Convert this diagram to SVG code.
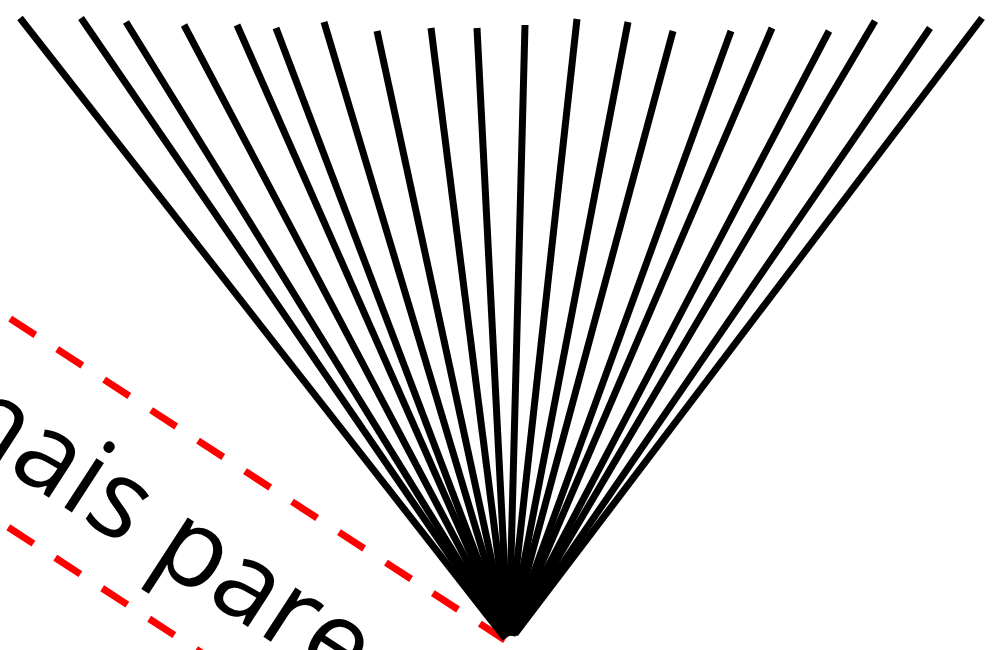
<svg xmlns="http://www.w3.org/2000/svg" width="1000" height="650" viewBox="0 0 1000 650">
<style>
.ray{stroke:#000;stroke-width:7;fill:none}
.box{stroke:#ff0000;stroke-width:7;stroke-dasharray:30 26;fill:none}
.lbl{font-family:"Open Sans","Noto Sans",sans-serif;font-size:110px;fill:#000}
</style>
<rect width="1000" height="650" fill="#fff"/>
<g id="label" transform="translate(505,640) rotate(33)">
<line class="box" x1="0" y1="0" x2="-800" y2="0"/>
<line class="box" x1="0" y1="176" x2="-800" y2="176"/>
<text class="lbl" x="-614" y="129">mais parece</text>
</g>
<g id="connectors">
<line class="ray" x1="20" y1="18" x2="505" y2="638"/>
<line class="ray" x1="81" y1="18" x2="506" y2="638"/>
<line class="ray" x1="126" y1="22" x2="506" y2="637"/>
<line class="ray" x1="184" y1="25" x2="507" y2="637"/>
<line class="ray" x1="237" y1="25" x2="507" y2="636"/>
<line class="ray" x1="276" y1="28" x2="507" y2="636"/>
<line class="ray" x1="324" y1="22" x2="508" y2="636"/>
<line class="ray" x1="377" y1="31" x2="508" y2="636"/>
<line class="ray" x1="431" y1="28" x2="508" y2="635"/>
<line class="ray" x1="477" y1="28" x2="508" y2="635"/>
<line class="ray" x1="525" y1="25" x2="509" y2="635"/>
<line class="ray" x1="577" y1="19" x2="509" y2="635"/>
<line class="ray" x1="628" y1="22" x2="510" y2="635"/>
<line class="ray" x1="673" y1="31" x2="510" y2="635"/>
<line class="ray" x1="731" y1="31" x2="511" y2="635"/>
<line class="ray" x1="772" y1="28" x2="511" y2="635"/>
<line class="ray" x1="829" y1="31" x2="512" y2="635"/>
<line class="ray" x1="875" y1="21" x2="513" y2="634"/>
<line class="ray" x1="930" y1="28" x2="514" y2="634"/>
<line class="ray" x1="982" y1="18" x2="515" y2="634"/>
</g>
</svg>
